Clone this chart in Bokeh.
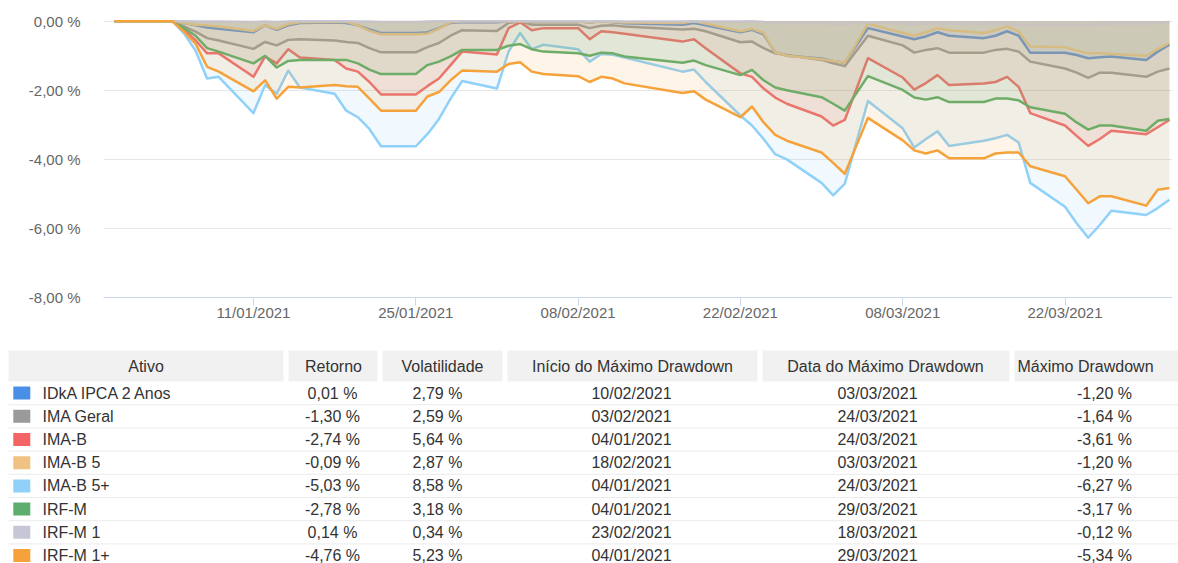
import pandas as pd
from bokeh.plotting import figure
from bokeh.models import (Range1d, FixedTicker, DatetimeTickFormatter,
                          CustomJSTickFormatter, ColumnDataSource)
from bokeh.embed import file_html
from bokeh.resources import INLINE
from bokeh.core.properties import value

# ---------------- data ----------------
dates = ["30/12/2020", "04/01/2021", "05/01/2021", "06/01/2021", "07/01/2021", "08/01/2021",
         "11/01/2021", "12/01/2021", "13/01/2021", "14/01/2021", "15/01/2021",
         "18/01/2021", "19/01/2021", "20/01/2021", "21/01/2021", "22/01/2021",
         "25/01/2021", "26/01/2021", "27/01/2021", "28/01/2021", "29/01/2021",
         "01/02/2021", "02/02/2021", "03/02/2021", "04/02/2021", "05/02/2021",
         "08/02/2021", "09/02/2021", "10/02/2021", "11/02/2021", "12/02/2021",
         "17/02/2021", "18/02/2021", "19/02/2021",
         "22/02/2021", "23/02/2021", "24/02/2021", "25/02/2021", "26/02/2021",
         "01/03/2021", "02/03/2021", "03/03/2021", "04/03/2021", "05/03/2021",
         "08/03/2021", "09/03/2021", "10/03/2021", "11/03/2021", "12/03/2021",
         "15/03/2021", "16/03/2021", "17/03/2021", "18/03/2021", "19/03/2021",
         "22/03/2021", "23/03/2021", "24/03/2021", "25/03/2021", "26/03/2021",
         "29/03/2021", "30/03/2021", "31/03/2021"]

idka_ipca_2 = [0, 0, -0.05, -0.12, -0.18, -0.22, -0.32, -0.12, -0.25, -0.12, -0.05,
               -0.04, -0.05, -0.12, -0.24, -0.34, -0.34, -0.32, -0.20, -0.05, -0.02,
               -0.03, 0, 0, -0.02, -0.01, 0, -0.04, 0, -0.03, -0.06,
               -0.10, -0.05, -0.12, -0.32, -0.25, -0.38, -0.90, -1.00,
               -1.08, -1.15, -1.20, -0.70, -0.20, -0.44, -0.52, -0.44, -0.32, -0.42,
               -0.49, -0.42, -0.29, -0.42, -0.91, -0.91, -0.98, -1.07, -1.04, -1.02,
               -1.12, -0.88, -0.68]
ima_geral = [0, 0, -0.15, -0.30, -0.49, -0.56, -0.80, -0.60, -0.70, -0.54, -0.52,
             -0.56, -0.60, -0.63, -0.78, -0.90, -0.90, -0.75, -0.63, -0.42, -0.26,
             -0.28, -0.05, 0, -0.10, -0.10, -0.10, -0.20, -0.13, -0.12, -0.15,
             -0.24, -0.22, -0.29, -0.61, -0.59, -0.78, -0.93, -0.98,
             -1.12, -1.22, -1.30, -0.86, -0.42, -0.70, -0.91, -0.83, -0.78, -0.91,
             -0.91, -0.83, -0.80, -0.88, -1.17, -1.37, -1.49, -1.64, -1.49, -1.49,
             -1.61, -1.46, -1.37]
ima_b = [0, 0, -0.25, -0.55, -0.93, -0.93, -1.61, -1.02, -1.22, -0.81, -1.05,
         -1.12, -1.37, -1.46, -1.76, -2.12, -2.12, -1.88, -1.66, -1.27, -0.88,
         -0.96, -0.20, -0.03, -0.26, -0.20, -0.20, -0.52, -0.29, -0.32, -0.36,
         -0.59, -0.52, -0.78, -1.51, -1.61, -1.95, -2.21, -2.39,
         -2.76, -3.02, -2.86, -1.97, -1.07, -1.63, -1.98, -1.79, -1.56, -1.85,
         -1.80, -1.76, -1.61, -1.90, -2.66, -3.02, -3.32, -3.61, -3.41, -3.17,
         -3.27, -3.07, -2.86]
ima_b_5 = [0, 0, -0.05, -0.10, -0.12, -0.15, -0.28, -0.12, -0.22, -0.08, -0.03,
           -0.02, -0.02, -0.12, -0.28, -0.38, -0.38, -0.36, -0.22, -0.03, 0,
           0, 0, 0, -0.01, 0, 0, -0.04, 0, -0.02, -0.04,
           -0.05, 0, -0.07, -0.29, -0.22, -0.34, -0.90, -1.00,
           -1.10, -1.15, -1.20, -0.64, -0.07, -0.34, -0.42, -0.32, -0.20, -0.26,
           -0.34, -0.26, -0.15, -0.30, -0.73, -0.75, -0.85, -0.93, -0.93, -0.95,
           -1.00, -0.81, -0.63]
ima_b_5_plus = [0, 0, -0.35, -0.85, -1.66, -1.61, -2.66, -1.85, -2.10, -1.43, -1.92,
                -2.10, -2.59, -2.78, -3.12, -3.62, -3.62, -3.27, -2.83, -2.24, -1.73,
                -1.95, -0.88, -0.34, -0.81, -0.68, -0.81, -1.17, -0.95, -0.97, -1.05,
                -1.46, -1.40, -1.76, -2.73, -3.02, -3.41, -3.85, -4.00,
                -4.68, -5.04, -4.71, -3.51, -2.31, -3.10, -3.66, -3.41, -3.19, -3.61,
                -3.46, -3.39, -3.29, -3.51, -4.68, -5.37, -5.85, -6.27, -5.90, -5.49,
                -5.61, -5.41, -5.17]
irf_m = [0, 0, -0.20, -0.42, -0.78, -0.88, -1.22, -1.00, -1.34, -1.15, -1.12,
         -1.12, -1.12, -1.22, -1.40, -1.53, -1.53, -1.27, -1.17, -1.02, -0.83,
         -0.83, -0.71, -0.66, -0.81, -0.88, -0.93, -1.00, -0.91, -0.93, -1.02,
         -1.20, -1.14, -1.27, -1.56, -1.41, -1.71, -1.92, -2.00,
         -2.20, -2.39, -2.59, -2.09, -1.59, -1.99, -2.21, -2.27, -2.20, -2.34,
         -2.34, -2.24, -2.24, -2.29, -2.49, -2.68, -2.93, -3.14, -3.02, -3.02,
         -3.17, -2.88, -2.83]
irf_m_1 = [0, 0, 0, -0.01, -0.01, -0.01, -0.02, -0.01, -0.02, -0.01, 0,
           0, 0, -0.01, -0.01, -0.02, -0.02, -0.01, 0, 0, 0,
           0, 0, 0, 0, 0, 0, -0.01, 0, 0, -0.01,
           -0.01, 0, -0.01, -0.01, 0, -0.02, -0.05, -0.06,
           -0.05, -0.07, -0.08, -0.05, -0.03, -0.06, -0.08, -0.07, -0.05, -0.07,
           -0.08, -0.07, -0.06, -0.12, -0.10, -0.09, -0.10, -0.11, -0.08, -0.07,
           -0.07, -0.04, -0.02]
irf_m_1_plus = [0, 0, -0.30, -0.65, -1.32, -1.46, -2.03, -1.71, -2.24, -1.90, -1.92,
                -1.85, -1.88, -1.90, -2.24, -2.59, -2.59, -2.18, -2.05, -1.71, -1.43,
                -1.46, -1.24, -1.19, -1.46, -1.53, -1.59, -1.76, -1.61, -1.66, -1.80,
                -2.08, -2.03, -2.27, -2.78, -2.47, -2.93, -3.29, -3.46,
                -3.80, -4.10, -4.42, -3.61, -2.80, -3.45, -3.74, -3.83, -3.74, -3.97,
                -3.97, -3.83, -3.80, -3.80, -4.20, -4.49, -4.88, -5.27, -5.07, -5.07,
                -5.34, -4.88, -4.83]

assets = ["IDkA IPCA 2 Anos", "IMA Geral", "IMA-B", "IMA-B 5", "IMA-B 5+",
          "IRF-M", "IRF-M 1", "IRF-M 1+"]
series = [idka_ipca_2, ima_geral, ima_b, ima_b_5, ima_b_5_plus, irf_m, irf_m_1, irf_m_1_plus]
colors = ["#4a8fe7", "#9a9a9a", "#f56464", "#efc283", "#8fd1f8", "#5cae6e", "#c5c6d6", "#f6a23a"]

retorno = [0.01, -1.30, -2.74, -0.09, -5.03, -2.78, 0.14, -4.76]
volatilidade = [2.79, 2.59, 5.64, 2.87, 8.58, 3.18, 0.34, 5.23]
inicio_dd = ["10/02/2021", "03/02/2021", "04/01/2021", "18/02/2021", "04/01/2021",
             "04/01/2021", "23/02/2021", "04/01/2021"]
data_dd = ["03/03/2021", "24/03/2021", "24/03/2021", "03/03/2021", "24/03/2021",
           "29/03/2021", "18/03/2021", "29/03/2021"]
max_dd = [-1.20, -1.64, -3.61, -1.20, -6.27, -3.17, -0.12, -5.34]

headers = ["Ativo", "Retorno", "Volatilidade", "Início do Máximo Drawdown",
           "Data do Máximo Drawdown", "Máximo Drawdown"]
x_tick_dates = ["11/01/2021", "25/01/2021", "08/02/2021", "22/02/2021", "08/03/2021", "22/03/2021"]
y_ticks = [-8, -6, -4, -2, 0]


def pct(v):
    return f"{v:.2f}".replace(".", ",") + " %"


FONT = "Liberation Sans"
W = 1178

# ---------------- chart ----------------
x = pd.to_datetime(dates, format="%d/%m/%Y")
x0 = x[0] - pd.Timedelta(hours=22.5)
x1 = x[-1] + pd.Timedelta(hours=6.5)

p = figure(width=W, height=346, x_axis_type="datetime",
           x_range=Range1d(x0, x1), y_range=Range1d(-8, 0.05),
           output_backend="svg", toolbar_location=None,
           min_border_left=103, min_border_right=6, min_border_top=19, min_border_bottom=49)
p.outline_line_color = None
p.background_fill_color = "white"
p.border_fill_color = "white"

for name, vals, col in zip(assets, series, colors):
    src = ColumnDataSource(dict(x=x, y=vals))
    p.varea(x="x", y1=0, y2="y", source=src, fill_color=col, fill_alpha=0.12)
    p.line("x", "y", source=src, line_color=col, line_width=2.5, line_join="round")

tick_ms = [pd.Timestamp(pd.to_datetime(d, format="%d/%m/%Y")).value // 10**6 for d in x_tick_dates]
p.xaxis.ticker = FixedTicker(ticks=tick_ms)
fmt = "%d/%m/%Y"
p.xaxis.formatter = DatetimeTickFormatter(days=fmt, months=fmt, years=fmt, hours=fmt,
                                          hourmin=fmt, minutes=fmt, seconds=fmt)
p.xaxis.axis_line_color = "#ccd6eb"
p.xaxis.major_tick_line_color = "#ccd6eb"
p.xaxis.major_tick_out = 8
p.xaxis.major_tick_in = 0
p.xaxis.minor_tick_line_color = None
p.xaxis.major_label_standoff = -2
p.xaxis.major_label_text_font = FONT
p.xaxis.major_label_text_font_size = "15px"
p.xaxis.major_label_text_color = "#666666"

p.yaxis.ticker = FixedTicker(ticks=y_ticks)
p.yaxis.formatter = CustomJSTickFormatter(code="return tick.toFixed(2).replace('.', ',') + ' %';")
p.yaxis.axis_line_color = None
p.yaxis.major_tick_line_color = None
p.yaxis.minor_tick_line_color = None
p.yaxis.major_label_standoff = 17
p.yaxis.major_label_text_font = FONT
p.yaxis.major_label_text_font_size = "15px"
p.yaxis.major_label_text_color = "#666666"

p.xgrid.grid_line_color = None
p.ygrid.ticker = FixedTicker(ticks=y_ticks)
p.ygrid.grid_line_color = "#e6e6e6"

# ---------------- table ----------------
TH = 217
t = figure(width=W, height=TH, x_range=Range1d(0, W), y_range=Range1d(TH, 0),
           output_backend="svg", toolbar_location=None, min_border=0,
           x_axis_location=None, y_axis_location=None)
t.grid.visible = False
t.outline_line_color = None
t.background_fill_color = "white"
t.border_fill_color = "white"

head_left = [8, 288, 382, 507, 762, 1014]
head_right = [283, 377, 502, 757, 1009, 1183]
head_top, head_bot = 4, 35
t.quad(left=head_left, right=head_right, top=[head_top] * 6, bottom=[head_bot] * 6,
       fill_color="#f1f1f1", line_color=None)

head_x = [145.5, 333, 442, 632, 885, 1017]
head_align = ["center", "center", "center", "center", "center", "left"]
t.text(x=head_x, y=[19.5] * 6, text=headers, text_align=head_align,
       text_baseline="middle", text_font=value(FONT), text_font_size=value("16px"),
       text_color="#333333")

row_h = 23.2
row_y = [head_bot + (i + 0.5) * row_h for i in range(len(assets))]
sep_y = [head_bot + (i + 1) * row_h for i in range(len(assets) - 1)]
t.segment(x0=[8] * len(sep_y), x1=[W] * len(sep_y), y0=sep_y, y1=sep_y,
          line_color="#ebebeb", line_width=1)

t.rect(x=[21.3] * len(assets), y=row_y, width=17, height=13, fill_color=colors, line_color=None)

cell_kw = dict(text_baseline="middle", text_font=value(FONT), text_font_size=value("16px"),
               text_color="#333333")
t.text(x=[42] * len(assets), y=row_y, text=assets, text_align="left", **cell_kw)
t.text(x=[332] * len(assets), y=row_y, text=[pct(v) for v in retorno], text_align="center", **cell_kw)
t.text(x=[437] * len(assets), y=row_y, text=[pct(v) for v in volatilidade], text_align="center", **cell_kw)
t.text(x=[631] * len(assets), y=row_y, text=inicio_dd, text_align="center", **cell_kw)
t.text(x=[877] * len(assets), y=row_y, text=data_dd, text_align="center", **cell_kw)
t.text(x=[1104] * len(assets), y=row_y, text=[pct(v) for v in max_dd], text_align="center", **cell_kw)

open("out.html", "w").write(file_html([p, t], INLINE))
